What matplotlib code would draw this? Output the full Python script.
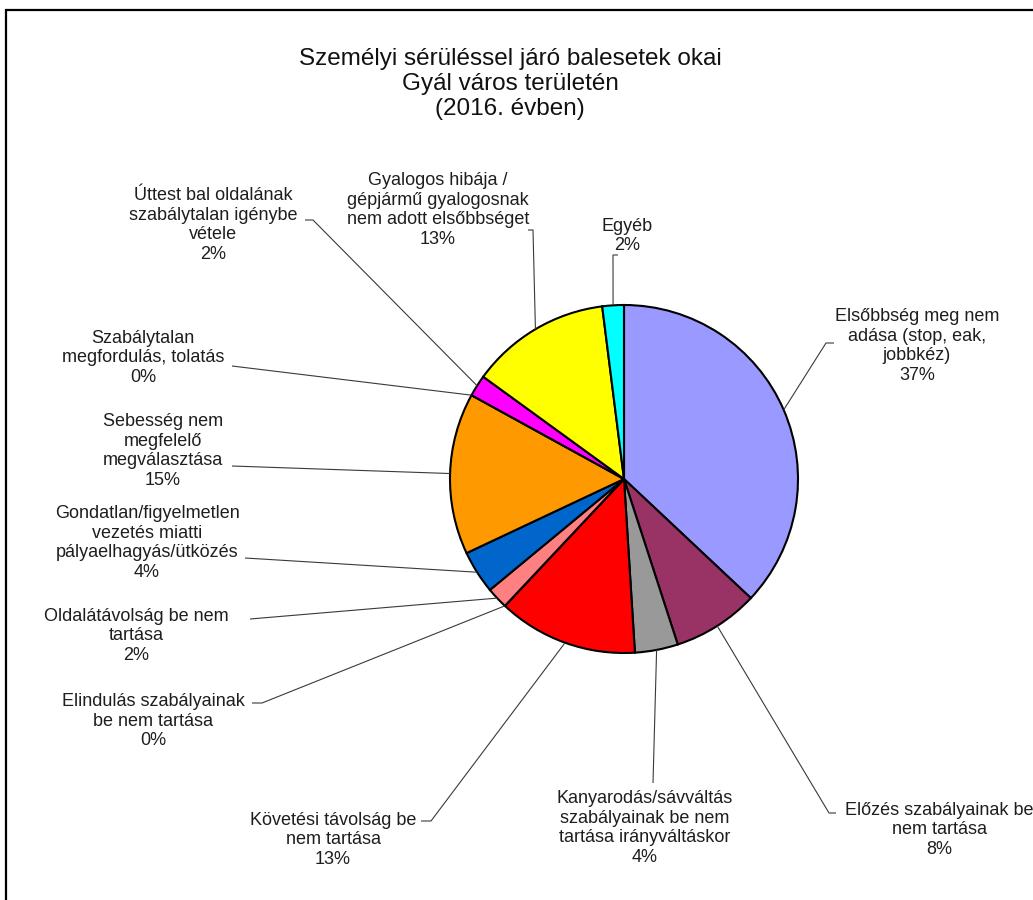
import matplotlib
matplotlib.use("Agg")
import matplotlib.pyplot as plt
import numpy as np

plt.rcParams["font.family"] = ["Liberation Sans", "DejaVu Sans"]

# --- data -------------------------------------------------------------
title = "Személyi sérüléssel járó balesetek okai\nGyál város területén\n(2016. évben)"

causes = [
    "Elsőbbség meg nem\nadása (stop, eak,\njobbkéz)",
    "Előzés szabályainak be\nnem tartása",
    "Kanyarodás/sávváltás\nszabályainak be nem\ntartása irányváltáskor",
    "Követési távolság be\nnem tartása",
    "Elindulás szabályainak\nbe nem tartása",
    "Oldalátávolság be nem\ntartása",
    "Gondatlan/figyelmetlen\nvezetés miatti\npályaelhagyás/ütközés",
    "Sebesség nem\nmegfelelő\nmegválasztása",
    "Szabálytalan\nmegfordulás, tolatás",
    "Úttest bal oldalának\nszabálytalan igénybe\nvétele",
    "Gyalogos hibája /\ngépjármű gyalogosnak\nnem adott elsőbbséget",
    "Egyéb",
]
shares = [37, 8, 4, 13, 0, 2, 4, 15, 0, 2, 13, 2]

colors = ["#9999FF", "#993366", "#999999", "#FF0000", "#660066", "#FF8080",
          "#0066CC", "#FF9900", "#000080", "#FF00FF", "#FFFF00", "#00FFFF"]

# --- layout (pixel units, measured from the top-left corner) -----------
W, H = 1033, 900
PIE_CENTER = (624, 479)
PIE_RADIUS = 174

# label block centre, then leader-line waypoints ending at the label
label_layout = [
    ((917, 346), [(826, 343), (834, 343)]),
    ((939, 830), [(829, 813), (836, 813)]),
    ((645, 828), [(653, 783)]),
    ((333, 840), [(431, 821), (421, 821)]),
    ((153, 721), [(262, 703), (252, 703)]),
    ((136, 636), [(250, 619)]),
    ((147, 543), [(245, 558)]),
    ((163, 451), [(232, 466)]),
    ((143, 358), [(232, 366)]),
    ((213, 225), [(313, 220), (305, 220)]),
    ((438, 210), [(533, 230), (528, 230)]),
    ((627, 236), [(613, 255), (618, 255)]),
]


def Y(y):
    """Convert a top-down pixel row into the axes' bottom-up coordinate."""
    return H - y


fig = plt.figure(figsize=(W / 100, H / 100), dpi=100)
ax = fig.add_axes([0, 0, 1, 1])

wedges, _ = ax.pie(
    shares,
    colors=colors,
    startangle=90,
    counterclock=False,
    center=(PIE_CENTER[0], Y(PIE_CENTER[1])),
    radius=PIE_RADIUS,
    wedgeprops=dict(edgecolor="black", linewidth=1.5),
)

ax.set_xlim(0, W)
ax.set_ylim(0, H)
ax.set_axis_off()

text_color = "#1e1e1e"

for wedge, name, value, ((tx, ty), path) in zip(wedges, causes, shares, label_layout):
    mid = np.deg2rad((wedge.theta1 + wedge.theta2) / 2.0)
    cx, cy = wedge.center
    r = wedge.r
    px, py = cx + r * np.cos(mid), cy + r * np.sin(mid)
    xs = [px] + [p[0] for p in path]
    ys = [py] + [Y(p[1]) for p in path]
    ax.plot(xs, ys, color="#3a3a3a", lw=0.8, solid_capstyle="butt", zorder=1)
    ax.text(tx, Y(ty), f"{name}\n{value}%", ha="center", va="center",
            multialignment="center", fontsize=13, linespacing=1.2,
            color=text_color)

ax.text(510, Y(84), title, ha="center", va="center", multialignment="center",
        fontsize=17.5, linespacing=1.2, color="#111111")

# chart-area frame (top and left edges)
ax.plot([6, 6, W + 10], [Y(H + 10), Y(9.5), Y(9.5)], color="black", lw=1.6,
        clip_on=False, solid_joinstyle="miter")

fig.savefig("out.png", dpi=100, facecolor="white")
